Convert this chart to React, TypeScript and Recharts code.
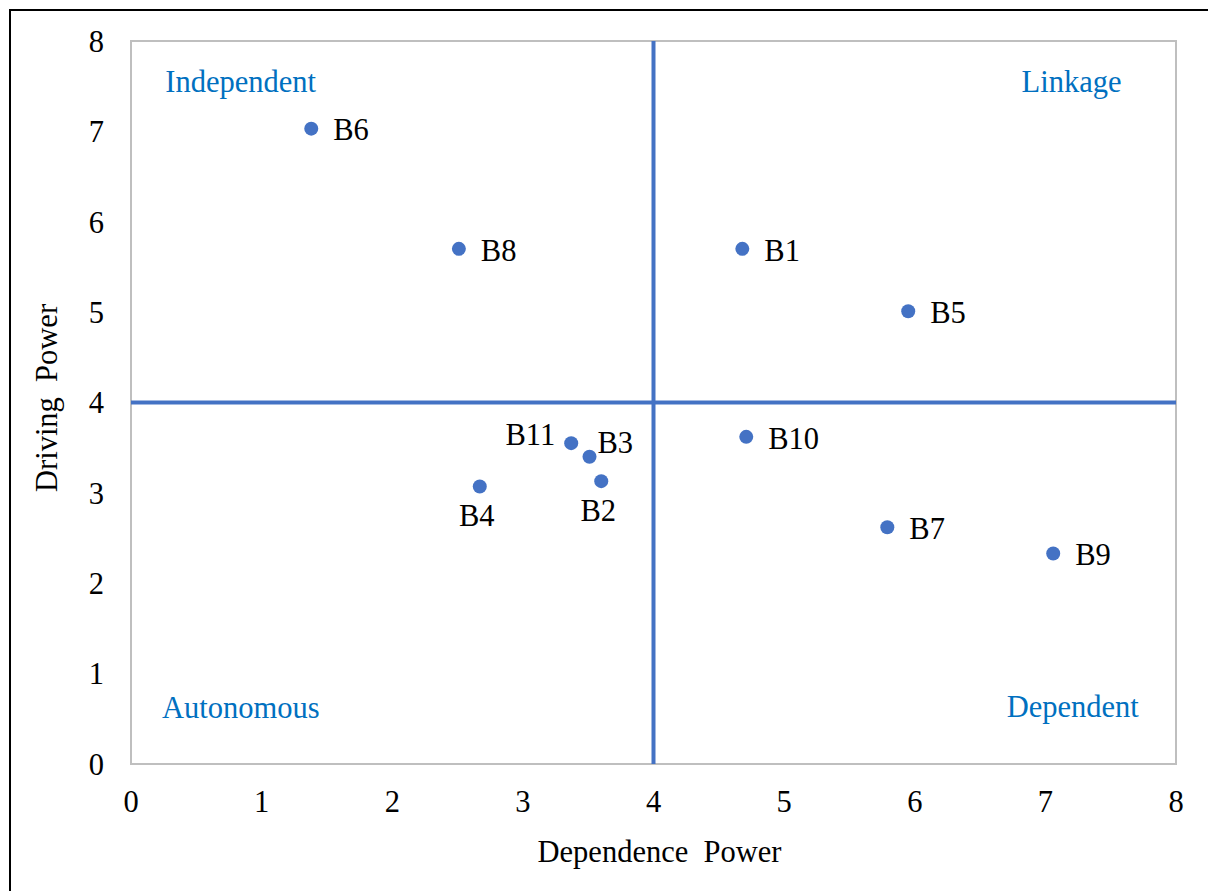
import {
  ReferenceArea,
  ReferenceDot,
  ReferenceLine,
  Scatter,
  ScatterChart,
  XAxis,
  YAxis,
} from "recharts";

const DOT = "#4472C4";
const NOTE = "#0070C0";
const FRAME = "#BFBFBF";
const FONT = '"Liberation Serif", "Times New Roman", serif';
const FS = 30.5;

// barriers, dependence power (x) and driving power (y)
const NAMES = ["B1", "B2", "B3", "B4", "B5", "B6", "B7", "B8", "B9", "B10", "B11"];
const DEPENDENCE = [4.68, 3.6, 3.51, 2.67, 5.95, 1.38, 5.79, 2.51, 7.06, 4.71, 3.37];
const DRIVING = [5.7, 3.13, 3.4, 3.07, 5.01, 7.03, 2.62, 5.7, 2.33, 3.62, 3.55];
// where each data label sits relative to its dot
const LABEL_SIDE = ["right", "below", "aboveRight", "below", "right", "right", "right", "right", "right", "right", "left"];

const TICKS = [0, 1, 2, 3, 4, 5, 6, 7, 8];
const MID = 4;

const QUADRANTS = ["Independent", "Linkage", "Autonomous", "Dependent"];
const QUADRANT_X = [0.84, 7.2, 0.84, 7.21];
const QUADRANT_Y = [7.44, 7.44, 0.51, 0.52];

const points = NAMES.map((name, i) => ({
  name,
  x: DEPENDENCE[i],
  y: DRIVING[i],
  side: LABEL_SIDE[i],
}));

function Point(props: any) {
  const { cx, cy, payload } = props;
  let tx = cx + 22;
  let ty = cy + 1;
  let anchor: "start" | "middle" | "end" = "start";
  if (payload.side === "left") {
    tx = cx - 16;
    ty = cy - 9;
    anchor = "end";
  } else if (payload.side === "aboveRight") {
    tx = cx + 8;
    ty = cy - 14;
  } else if (payload.side === "below") {
    tx = cx - 3;
    ty = cy + 29;
    anchor = "middle";
  }
  return (
    <g>
      <circle cx={cx} cy={cy} r={7} fill={DOT} />
      <text x={tx} y={ty} dy="0.35em" textAnchor={anchor} fontFamily={FONT} fontSize={FS} fill="#000">
        {payload.name}
      </text>
    </g>
  );
}

function Note(text: string) {
  return (props: any) => (
    <text x={props.cx} y={props.cy} textAnchor="middle" fontFamily={FONT} fontSize={FS} fill={NOTE}>
      {text}
    </text>
  );
}

export default function App() {
  const tick = { fill: "#000", fontSize: FS, fontFamily: FONT };
  return (
    <div style={{ position: "absolute", left: 0, top: 0, width: 1208, height: 891, overflow: "hidden", background: "#fff" }}>
      <div
        style={{
          position: "absolute",
          left: 9,
          top: 9,
          width: 1400,
          height: 1100,
          borderLeft: "2.5px solid #000",
          borderTop: "2.5px solid #000",
        }}
      />
      <div style={{ position: "absolute", left: 0, top: 0 }}>
        <ScatterChart width={1208} height={891} margin={{ top: 41, right: 32, bottom: 67, left: 51 }}>
          <XAxis
            type="number"
            dataKey="x"
            domain={[0, 8]}
            ticks={TICKS}
            axisLine={false}
            tickLine={false}
            tickMargin={20}
            tick={tick}
            height={60}
            label={() => (
              <text x={659.5} y={862} textAnchor="middle" fontFamily={FONT} fontSize={FS} fill="#000" style={{ whiteSpace: "pre" }}>
                {"Dependence  Power"}
              </text>
            )}
          />
          <YAxis
            type="number"
            dataKey="y"
            domain={[0, 8]}
            ticks={TICKS}
            axisLine={false}
            tickLine={false}
            tickMargin={21}
            tick={tick}
            width={80}
            label={() => (
              <text
                x={57}
                y={398}
                transform="rotate(-90 57 398)"
                textAnchor="middle"
                fontFamily={FONT}
                fontSize={FS}
                fill="#000"
                style={{ whiteSpace: "pre" }}
              >
                {"Driving  Power"}
              </text>
            )}
          />
          <ReferenceArea x1={0} x2={8} y1={0} y2={8} fill="none" fillOpacity={0} stroke={FRAME} strokeWidth={2} />
          <ReferenceLine y={MID} stroke={DOT} strokeWidth={4} />
          <ReferenceLine x={MID} stroke={DOT} strokeWidth={4} />
          {QUADRANTS.map((q, i) => (
            <ReferenceDot key={q} x={QUADRANT_X[i]} y={QUADRANT_Y[i]} r={0} shape={Note(q)} />
          ))}
          <Scatter data={points} shape={Point} isAnimationActive={false} />
        </ScatterChart>
      </div>
    </div>
  );
}
